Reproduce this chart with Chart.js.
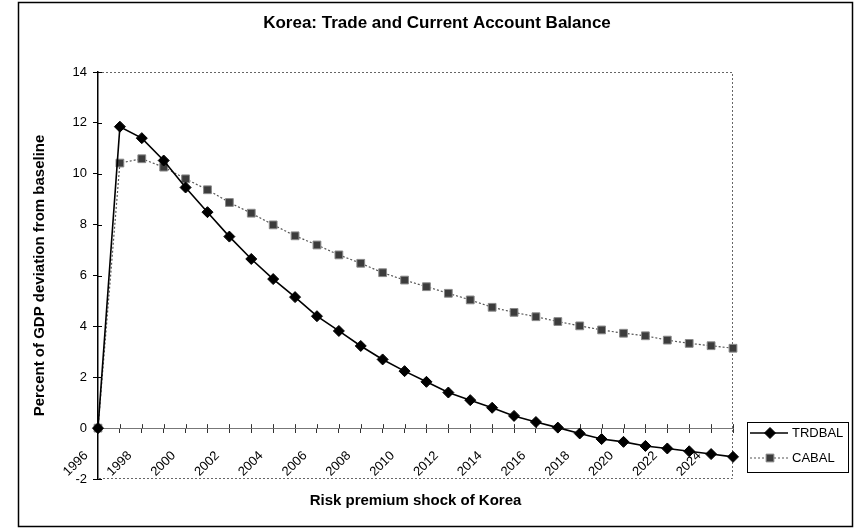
<!DOCTYPE html>
<html>
<head>
<meta charset="utf-8">
<title>Korea: Trade and Current Account Balance</title>
<script src="https://cdn.jsdelivr.net/npm/chart.js@4.4.0/dist/chart.umd.min.js"></script>
<style>
  body { margin: 0; background: #fff; }
  canvas { display: block; }
</style>
</head>
<body>
<canvas id="myChart" width="856" height="532"></canvas>
<script>
"use strict";

// data --------------------------------
const years = [
  "1996", "1997", "1998", "1999", "2000", "2001", "2002", "2003", "2004", "2005",
  "2006", "2007", "2008", "2009", "2010", "2011", "2012", "2013", "2014", "2015",
  "2016", "2017", "2018", "2019", "2020", "2021", "2022", "2023", "2024", "2025",
];
const trdbal = [
  0, 11.85, 11.4, 10.52, 9.46, 8.49, 7.53, 6.65, 5.86, 5.15,
  4.4, 3.82, 3.23, 2.7, 2.24, 1.82, 1.4, 1.1, 0.8, 0.48,
  0.24, 0.02, -0.21, -0.43, -0.54, -0.7, -0.8, -0.91, -1.02, -1.13,
];
const cabal = [
  0, 10.42, 10.59, 10.26, 9.8, 9.37, 8.87, 8.45, 7.99, 7.56,
  7.2, 6.81, 6.48, 6.11, 5.82, 5.56, 5.3, 5.04, 4.75, 4.55,
  4.38, 4.19, 4.02, 3.86, 3.73, 3.63, 3.46, 3.33, 3.24, 3.14,
];
const yTicks = { min: -2, max: 14, step: 2 };

Chart.defaults.font.family = "'Liberation Sans', Arial, sans-serif";
Chart.defaults.color = "#000";

// outer frame + dotted plot area border
const framePlugin = {
  id: "frame",
  beforeDraw(chart) {
    const ctx = chart.ctx;
    ctx.save();
    ctx.strokeStyle = "#000";
    ctx.lineWidth = 1.5;
    ctx.strokeRect(18.5, 2.5, 834, 524);
    ctx.restore();
  },
  beforeDatasetsDraw(chart) {
    const { ctx, chartArea: a, scales } = chart;
    ctx.save();
    ctx.strokeStyle = "#666";
    ctx.lineWidth = 1;
    ctx.setLineDash([2, 2]);
    ctx.beginPath();
    ctx.moveTo(a.left, a.top + 0.5);
    ctx.lineTo(a.right - 0.5, a.top + 0.5);
    ctx.lineTo(a.right - 0.5, a.bottom - 0.5);
    ctx.lineTo(a.left, a.bottom - 0.5);
    ctx.stroke();
    ctx.setLineDash([]);

    // excel ticks cross the axis, so add the inner half of each tick
    const y0 = scales.y.getPixelForValue(0);
    ctx.strokeStyle = "#333";
    ctx.beginPath();
    scales.x.ticks.forEach((t, i) => {
      const px = Math.round(scales.x.getPixelForTick(i)) + 0.5;
      ctx.moveTo(px, y0);
      ctx.lineTo(px, y0 - 4);
    });
    ctx.stroke();
    ctx.strokeStyle = "#000";
    ctx.beginPath();
    scales.y.ticks.forEach((t) => {
      const py = Math.round(scales.y.getPixelForValue(t.value)) + 0.5;
      ctx.moveTo(a.left, py);
      ctx.lineTo(a.left + 4, py);
    });
    ctx.stroke();
    ctx.restore();
  },
};

// boxed legend at the lower right, like the excel one
const legendBox = {
  id: "legendBox",
  afterDraw(chart) {
    const { ctx, chartArea: a } = chart;
    const x = a.right + 14;
    const y = a.bottom - 57;
    ctx.save();
    ctx.strokeStyle = "#000";
    ctx.lineWidth = 1;
    ctx.strokeRect(x + 0.5, y + 0.5, 101, 50);
    chart.data.datasets.forEach((ds, i) => {
      const cy = y + 11 + i * 25;
      ctx.strokeStyle = ds.borderColor;
      ctx.lineWidth = ds.borderWidth;
      ctx.setLineDash(ds.borderDash || []);
      ctx.beginPath();
      ctx.moveTo(x + 3, cy);
      ctx.lineTo(x + 41, cy);
      ctx.stroke();
      ctx.setLineDash([]);
      ctx.fillStyle = ds.pointBackgroundColor;
      ctx.strokeStyle = ds.pointBorderColor;
      ctx.lineWidth = ds.pointBorderWidth;
      Chart.helpers.drawPoint(ctx, { pointStyle: ds.pointStyle, radius: ds.pointRadius, rotation: 0, borderWidth: ds.pointBorderWidth }, x + 23, cy);
      ctx.fillStyle = "#000";
      ctx.font = "13px 'Liberation Sans', Arial, sans-serif";
      ctx.textBaseline = "middle";
      ctx.fillText(ds.label, x + 45, cy);
    });
    ctx.restore();
  },
};

const ctx = document.getElementById("myChart").getContext("2d");
const myChart = new Chart(ctx, {
  type: "line",
  data: {
    labels: years,
    datasets: [
      {
        label: "TRDBAL",
        data: trdbal,
        borderColor: "#000",
        borderWidth: 1.6,
        pointStyle: "rectRot",
        pointRadius: 5.5,
        pointBackgroundColor: "#000",
        pointBorderColor: "#000",
        pointBorderWidth: 1,
        tension: 0,
        clip: false,
      },
      {
        label: "CABAL",
        data: cabal,
        borderColor: "#555",
        borderWidth: 1.2,
        borderDash: [2, 2],
        pointStyle: "rect",
        pointRadius: 5.5,
        pointBackgroundColor: "#3c3c3c",
        pointBorderColor: "#8a8a8a",
        pointBorderWidth: 1,
        tension: 0,
        clip: false,
      },
    ],
  },
  options: {
    responsive: false,
    animation: false,
    devicePixelRatio: 1,
    layout: { padding: { left: 18, right: 0, top: 0, bottom: 0 } },
    plugins: {
      legend: { display: false },
      tooltip: { enabled: false },
      title: {
        display: true,
        text: "Korea: Trade and Current Account Balance",
        font: { size: 17, weight: "bold" },
        color: "#000",
        padding: { top: 13, bottom: 38.6 },
      },
      subtitle: {
        display: true,
        position: "bottom",
        fullSize: false,
        text: "Risk premium shock of Korea",
        font: { size: 15, weight: "bold" },
        color: "#000",
        padding: { top: 13, bottom: 22 },
      },
    },
    scales: {
      x: {
        position: { y: 0 },
        grid: { drawOnChartArea: false, tickLength: 4, color: "#333" },
        border: { color: "#777", width: 1 },
        ticks: {
          autoSkip: false,
          minRotation: 45,
          maxRotation: 45,
          padding: 16,
          labelOffset: -12,
          font: { size: 13 },
          color: "#000",
          callback: function (value, index) {
            return index % 2 === 0 ? this.getLabelForValue(value) : "";
          },
        },
      },
      y: {
        min: yTicks.min,
        max: yTicks.max,
        ticks: { stepSize: yTicks.step, padding: 6, font: { size: 13 }, color: "#000" },
        grid: { drawOnChartArea: false, tickLength: 5, color: "#000" },
        border: { color: "#000", width: 1.5 },
        title: {
          display: true,
          text: "Percent of GDP deviation from baseline",
          font: { size: 15, weight: "bold" },
          color: "#000",
          padding: { top: 13, bottom: 4 },
        },
        afterFit: function (scale) {
          scale.width = 80;
        },
      },
      // empty right axis, only keeps room for the legend
      yRight: {
        type: "linear",
        position: "right",
        ticks: { display: false },
        grid: { display: false },
        border: { display: false },
        afterFit: function (scale) {
          scale.width = 123;
        },
      },
    },
  },
  plugins: [framePlugin, legendBox],
});
</script>
</body>
</html>
